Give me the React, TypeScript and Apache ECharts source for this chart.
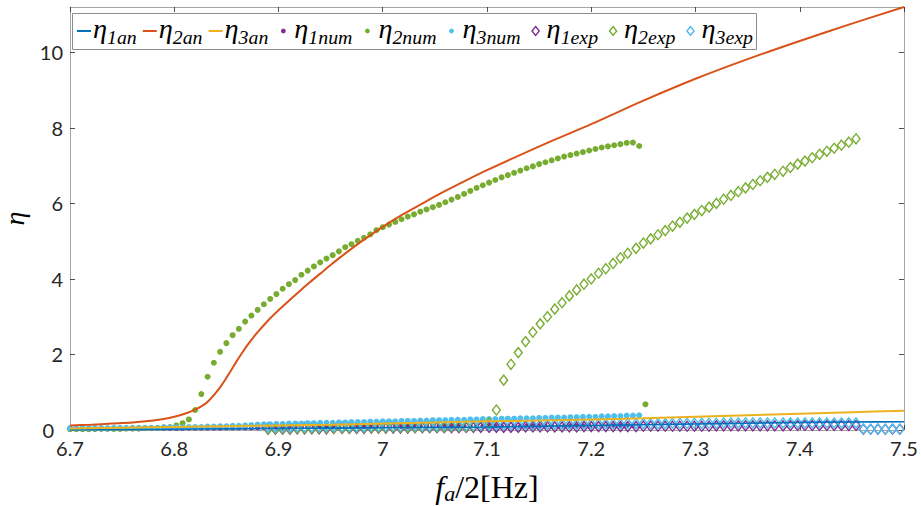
import React, { useEffect, useRef } from 'react';
import * as echarts from 'echarts';

// Frequency grid of the numerical sweep (f_a/2, Hz)
const numFreq = [
  6.700, 6.706, 6.712, 6.718, 6.724, 6.730, 6.736, 6.742, 6.748, 6.754,
  6.760, 6.766, 6.772, 6.778, 6.784, 6.790, 6.796, 6.802, 6.808, 6.814,
  6.820, 6.826, 6.832, 6.838, 6.844, 6.850, 6.856, 6.862, 6.868, 6.874,
  6.880, 6.886, 6.892, 6.898, 6.904, 6.910, 6.916, 6.922, 6.928, 6.934,
  6.940, 6.946, 6.952, 6.958, 6.964, 6.970, 6.976, 6.982, 6.988, 6.994,
  7.000, 7.006, 7.012, 7.018, 7.024, 7.030, 7.036, 7.042, 7.048, 7.054,
  7.060, 7.066, 7.072, 7.078, 7.084, 7.090, 7.096, 7.102, 7.108, 7.114,
  7.120, 7.126, 7.132, 7.138, 7.144, 7.150, 7.156, 7.162, 7.168, 7.174,
  7.180, 7.186, 7.192, 7.198, 7.204, 7.210, 7.216, 7.222, 7.228, 7.234,
  7.240, 7.246, 7.252,
];

const eta1Num = [
  0.02, 0.02, 0.02, 0.02, 0.02, 0.03, 0.03, 0.03, 0.03, 0.03, 0.03, 0.03, 0.04, 0.04, 0.04, 0.04, 0.04,
  0.04, 0.04, 0.05, 0.05, 0.05, 0.05, 0.05, 0.05, 0.06, 0.06, 0.06, 0.06, 0.06, 0.06, 0.07, 0.07, 0.07,
  0.07, 0.07, 0.07, 0.07, 0.08, 0.08, 0.08, 0.08, 0.08, 0.08, 0.08, 0.08, 0.09, 0.09, 0.09, 0.09, 0.09,
  0.09, 0.09, 0.09, 0.09, 0.10, 0.10, 0.10, 0.10, 0.10, 0.10, 0.10, 0.10, 0.10, 0.10, 0.10, 0.10, 0.10,
  0.10, 0.10, 0.10, 0.10, 0.10, 0.10, 0.10, 0.10, 0.10, 0.10, 0.10, 0.10, 0.11, 0.11, 0.11, 0.11,
  0.11, 0.11, 0.11, 0.11, 0.11, 0.11, 0.11, 0.11,
];

const eta2Num = [
  0.02, 0.02, 0.02, 0.02, 0.03, 0.03, 0.03, 0.03, 0.03, 0.04, 0.04, 0.04, 0.05, 0.05, 0.06, 0.07, 0.08,
  0.12, 0.18, 0.28, 0.53, 0.95, 1.41, 1.78, 2.07, 2.30, 2.51, 2.68, 2.87, 3.03, 3.18, 3.33, 3.47, 3.60,
  3.74, 3.86, 3.97, 4.11, 4.22, 4.33, 4.44, 4.54, 4.63, 4.73, 4.84, 4.92, 5.01, 5.09, 5.18,
  5.29, 5.37, 5.44, 5.51, 5.58, 5.65, 5.71, 5.78, 5.84, 5.90, 5.96, 6.03, 6.10, 6.17, 6.25,
  6.33, 6.41, 6.48, 6.55, 6.62, 6.69, 6.75, 6.81, 6.87, 6.93, 6.98, 7.04, 7.09, 7.14, 7.19,
  7.24, 7.28, 7.32, 7.36, 7.40, 7.44, 7.48, 7.51, 7.54, 7.57, 7.60, 7.61, 7.52, 0.68,
];

const eta3Num = [
  0.05, 0.05, 0.05, 0.05, 0.05, 0.05, 0.05, 0.06, 0.06, 0.06, 0.06, 0.06, 0.06, 0.06, 0.06, 0.07, 0.07, 0.07,
  0.07, 0.08, 0.08, 0.08, 0.09, 0.09, 0.10, 0.10, 0.11, 0.11, 0.12, 0.13, 0.14, 0.15, 0.15, 0.16,
  0.16, 0.17, 0.17, 0.17, 0.18, 0.18, 0.19, 0.19, 0.19, 0.20, 0.20, 0.21, 0.21, 0.21, 0.22, 0.22, 0.23,
  0.23, 0.23, 0.24, 0.24, 0.24, 0.25, 0.25, 0.26, 0.26, 0.26, 0.27, 0.27, 0.27, 0.28, 0.28, 0.29, 0.29,
  0.29, 0.30, 0.30, 0.30, 0.31, 0.31, 0.31, 0.32, 0.32, 0.33, 0.33, 0.33, 0.34, 0.34, 0.35, 0.35,
  0.35, 0.36, 0.36, 0.37, 0.37, 0.38, 0.38, 0.39,
];

// Frequency grid of the measurements
const expFreq = [
  6.890, 6.897, 6.904, 6.911, 6.918, 6.925, 6.932, 6.939, 6.946, 6.953,
  6.961, 6.968, 6.975, 6.982, 6.989, 6.996, 7.003, 7.010, 7.017, 7.024,
  7.031, 7.038, 7.045, 7.052, 7.059, 7.066, 7.073, 7.080, 7.087, 7.094,
  7.102, 7.109, 7.116, 7.123, 7.130, 7.137, 7.144, 7.151, 7.158, 7.165,
  7.172, 7.179, 7.186, 7.193, 7.200, 7.207, 7.214, 7.221, 7.228, 7.235,
  7.243, 7.250, 7.257, 7.264, 7.271, 7.278, 7.285, 7.292, 7.299, 7.306,
  7.313, 7.320, 7.327, 7.334, 7.341, 7.348, 7.355, 7.362, 7.369, 7.376,
  7.384, 7.391, 7.398, 7.405, 7.412, 7.419, 7.426, 7.433, 7.440, 7.447,
  7.454, 7.461, 7.468, 7.475, 7.482, 7.489, 7.496,
];

const eta1Exp = [
  0.02, 0.02, 0.02, 0.02, 0.03, 0.03, 0.03, 0.03, 0.03, 0.04, 0.04, 0.04, 0.04, 0.04, 0.05, 0.05, 0.05, 0.05, 0.05, 0.05, 0.06,
  0.06, 0.06, 0.06, 0.06, 0.06, 0.06, 0.07, 0.07, 0.07, 0.07, 0.07, 0.07, 0.07, 0.07, 0.08, 0.08, 0.08, 0.08, 0.08, 0.08,
  0.08, 0.08, 0.09, 0.09, 0.09, 0.09, 0.09, 0.09, 0.09, 0.09, 0.10, 0.10, 0.10, 0.10, 0.10, 0.10, 0.10, 0.10, 0.10, 0.10,
  0.11, 0.11, 0.11, 0.11, 0.11, 0.11, 0.11, 0.11, 0.11, 0.11, 0.12, 0.12, 0.12, 0.12, 0.12, 0.12, 0.12, 0.12, 0.12, 0.12,
  0.02, 0.02, 0.02, 0.02, 0.02, 0.02,
];

const eta2Exp = [
  0.03, 0.03, 0.03, 0.04, 0.04, 0.04, 0.04, 0.05, 0.05, 0.05, 0.05, 0.05, 0.06, 0.06, 0.06, 0.06,
  0.06, 0.07, 0.07, 0.07, 0.07, 0.08, 0.08, 0.08, 0.08, 0.09, 0.09, 0.09, 0.10, 0.13, 0.19,
  0.53,
  1.32, 1.74, 2.05, 2.34, 2.59, 2.81, 3.00, 3.20, 3.37, 3.55, 3.71, 3.86, 4.00, 4.15, 4.27, 4.41,
  4.56, 4.68, 4.81, 4.95, 5.06, 5.17, 5.28, 5.40, 5.50, 5.61, 5.71, 5.81, 5.90, 6.00, 6.11, 6.21,
  6.31, 6.41, 6.50, 6.60, 6.69, 6.77, 6.85, 6.95, 7.04, 7.12, 7.21, 7.30, 7.38, 7.46, 7.54, 7.62, 7.71,
];

const eta3Exp = [
  0.07, 0.07, 0.07, 0.07, 0.08, 0.08, 0.08, 0.08, 0.08, 0.09, 0.09, 0.09, 0.09, 0.09, 0.10, 0.10, 0.10, 0.10, 0.10, 0.11, 0.11,
  0.11, 0.11, 0.11, 0.12, 0.12, 0.12, 0.12, 0.12, 0.13, 0.13, 0.13, 0.13, 0.14, 0.14, 0.14, 0.14, 0.14, 0.15, 0.15, 0.15,
  0.15, 0.15, 0.16, 0.16, 0.16, 0.16, 0.16, 0.16, 0.17, 0.17, 0.17, 0.17, 0.17, 0.17, 0.18, 0.18, 0.18, 0.18, 0.18, 0.18,
  0.18, 0.19, 0.19, 0.19, 0.19, 0.19, 0.19, 0.19, 0.19, 0.19, 0.19, 0.19, 0.19, 0.19, 0.19, 0.19, 0.19, 0.19, 0.19, 0.19,
  0.03, 0.02, 0.03, 0.02, 0.03, 0.02,
];

// Analytical curves
const anFreq = [6.70, 6.75, 6.80, 6.85, 6.90, 6.95, 7.00, 7.05, 7.10, 7.15, 7.20, 7.25, 7.30, 7.35, 7.40, 7.45, 7.50];
const eta1An = [0.00, 0.01, 0.02, 0.03, 0.04, 0.05, 0.06, 0.07, 0.08, 0.10, 0.12, 0.14, 0.16, 0.18, 0.20, 0.21, 0.22];
const eta3An = [0.04, 0.06, 0.08, 0.10, 0.12, 0.14, 0.17, 0.20, 0.23, 0.25, 0.28, 0.31, 0.35, 0.39, 0.43, 0.47, 0.51];

const an2Freq = [
  6.70, 6.72, 6.74, 6.76, 6.78, 6.79, 6.80, 6.81, 6.82, 6.83, 6.835, 6.84, 6.845, 6.85, 6.855,
  6.86, 6.865, 6.87, 6.875, 6.88, 6.89, 6.90, 6.91, 6.92, 6.93, 6.94, 6.95, 6.96, 6.98, 7.00,
  7.02, 7.04, 7.06, 7.08, 7.10, 7.13, 7.16, 7.20, 7.25, 7.30, 7.35, 7.40, 7.45, 7.50,
];
const eta2An = [
  0.12, 0.14, 0.17, 0.20, 0.25, 0.29, 0.35, 0.43, 0.54, 0.70, 0.83, 0.99, 1.17, 1.38, 1.60,
  1.83, 2.04, 2.24, 2.42, 2.59, 2.90, 3.17, 3.42, 3.67, 3.91, 4.14, 4.37, 4.59, 5.00, 5.38,
  5.72, 6.03, 6.33, 6.61, 6.88, 7.26, 7.63, 8.10, 8.72, 9.30, 9.82, 10.30, 10.76, 11.20,
];

const X_MIN = 6.7;
const X_MAX = 7.5;
const X_STEP = 0.1;
const Y_MIN = 0;
const Y_MAX = 11.2;
const Y_STEP = 2;

const COLORS = {
  blue: '#0072BD',
  orange: '#D95319',
  yellow: '#EDB120',
  purple: '#7E2F8E',
  green: '#77AC30',
  cyan: '#4DBEEE',
};

type Kind = 'line' | 'dot' | 'diamond';
const legendItems: { sub: string; kind: Kind; color: string }[] = [
  { sub: '1an', kind: 'line', color: COLORS.blue },
  { sub: '2an', kind: 'line', color: COLORS.orange },
  { sub: '3an', kind: 'line', color: COLORS.yellow },
  { sub: '1num', kind: 'dot', color: COLORS.purple },
  { sub: '2num', kind: 'dot', color: COLORS.green },
  { sub: '3num', kind: 'dot', color: COLORS.cyan },
  { sub: '1exp', kind: 'diamond', color: COLORS.purple },
  { sub: '2exp', kind: 'diamond', color: COLORS.green },
  { sub: '3exp', kind: 'diamond', color: COLORS.cyan },
];

const SERIF = '"Liberation Serif", "Times New Roman", serif';
const SANS = 'Lato, "Noto Sans", sans-serif';
const AXIS_GRAY = '#a6a6a6';
const TICK_TEXT = '#262626';
const TICK_FONT = 20;

const pairs = (xs: number[], ys: number[]) => ys.map((y, i) => [xs[i], y]);

function buildLegend(): any[] {
  const box = { x: 72, y: 13, w: 684, h: 36 };
  const cy = box.y + box.h / 2;
  const ctx = document.createElement('canvas').getContext('2d') as CanvasRenderingContext2D;
  const baseEta = 20;
  const baseSub = 14;
  const textW = (sub: string) => {
    ctx.font = `italic ${baseEta}px ${SERIF}`;
    const a = ctx.measureText('η').width;
    ctx.font = `italic ${baseSub}px ${SERIF}`;
    return a + ctx.measureText(sub).width;
  };
  const iconW = (k: Kind) => (k === 'line' ? 16 : 20);
  const gap = 6;
  const widths = legendItems.map((it) => textW(it.sub));
  const fixed = legendItems.reduce((s, it) => s + iconW(it.kind), 0) + gap * (legendItems.length - 1) + 8;
  const scale = (box.w - fixed) / widths.reduce((s, w) => s + w, 0);
  const etaSize = baseEta * scale;
  const subSize = baseSub * scale;

  const els: any[] = [
    {
      type: 'rect',
      shape: { x: box.x + 0.5, y: box.y + 0.5, width: box.w, height: box.h },
      style: { fill: '#ffffff', stroke: '#8c8c8c', lineWidth: 1 },
      z: 100,
    },
  ];
  let x = box.x + 5;
  legendItems.forEach((it, i) => {
    if (it.kind === 'line') {
      els.push({
        type: 'line',
        shape: { x1: x, y1: cy, x2: x + 14, y2: cy },
        style: { stroke: it.color, lineWidth: 2 },
        z: 101,
      });
    } else if (it.kind === 'dot') {
      els.push({
        type: 'circle',
        shape: { cx: x + 9, cy, r: 2.4 },
        style: { fill: it.color },
        z: 101,
      });
    } else {
      const cx = x + 9;
      els.push({
        type: 'polygon',
        shape: { points: [[cx, cy - 4.5], [cx + 3.6, cy], [cx, cy + 4.5], [cx - 3.6, cy]] },
        style: { fill: 'none', stroke: it.color, lineWidth: 1.4 },
        z: 101,
      });
    }
    const tx = x + iconW(it.kind);
    els.push({
      type: 'text',
      x: tx,
      y: cy,
      z: 101,
      style: {
        text: `{e|η}{s|${it.sub}}`,
        fill: '#000',
        align: 'left',
        verticalAlign: 'middle',
        textAlign: 'left',
        textVerticalAlign: 'middle',
        rich: {
          e: { fontSize: etaSize, fontFamily: SERIF, fontStyle: 'italic', lineHeight: etaSize * 1.15, verticalAlign: 'top', fill: '#000' },
          s: { fontSize: subSize, fontFamily: SERIF, fontStyle: 'italic', lineHeight: subSize, verticalAlign: 'bottom', fill: '#000' },
        },
      },
    });
    x = tx + widths[i] * scale + gap;
  });
  return els;
}

const fmtTick = (v: number) => String(Math.round(v * 10) / 10);
// The zero label sits in the corner next to the first x label; nudge it left.
const fmtYTick = (v: number) => (Math.abs(v) < 1e-9 ? '{z|0}' : fmtTick(v));

export default function App() {
  const ref = useRef<HTMLDivElement>(null);

  useEffect(() => {
    if (!ref.current) return;
    const chart = echarts.init(ref.current, undefined, { renderer: 'svg' });

    const baseX = {
      type: 'value',
      min: X_MIN,
      max: X_MAX,
      interval: X_STEP,
      splitLine: { show: false },
      axisLine: { show: true, onZero: false, lineStyle: { color: AXIS_GRAY, width: 1 } },
      axisTick: { show: true, inside: true, length: 5, lineStyle: { color: TICK_TEXT, width: 0.8 } },
    };
    const baseY = {
      type: 'value',
      min: Y_MIN,
      max: Y_MAX,
      interval: Y_STEP,
      splitLine: { show: false },
      axisLine: { show: true, onZero: false, lineStyle: { color: AXIS_GRAY, width: 1 } },
      axisTick: { show: true, inside: true, length: 5, lineStyle: { color: TICK_TEXT, width: 0.8 } },
    };

    const dot = (name: string, xs: number[], ys: number[], color: string, size: number) => ({
      name,
      type: 'scatter',
      data: pairs(xs, ys),
      symbol: 'circle',
      symbolSize: size,
      itemStyle: { color, opacity: 1 },
      silent: true,
    });
    const diamond = (name: string, xs: number[], ys: number[], color: string) => ({
      name,
      type: 'scatter',
      data: pairs(xs, ys),
      symbol: 'diamond',
      symbolSize: [8, 10],
      itemStyle: { color: 'rgba(0,0,0,0)', borderColor: color, borderWidth: 1.4, opacity: 1 },
      silent: true,
    });
    const curve = (name: string, xs: number[], ys: number[], color: string, width: number) => ({
      name,
      type: 'line',
      data: pairs(xs, ys),
      showSymbol: false,
      smooth: 0.3,
      lineStyle: { color, width },
      itemStyle: { color },
      silent: true,
    });

    chart.setOption({
      animation: false,
      backgroundColor: '#ffffff',
      grid: { left: 70, right: 17, top: 7, bottom: 76, containLabel: false, outerBoundsMode: 'none' },
      xAxis: [
        {
          ...baseX,
          position: 'bottom',
          axisLabel: { show: true, margin: 10, lineHeight: 16, color: TICK_TEXT, fontFamily: SANS, fontSize: TICK_FONT, formatter: fmtTick },
          name: '{f|f}{a|a}{r|/2[Hz]}',
          nameLocation: 'middle',
          nameGap: 41,
          nameTextStyle: {
            color: '#000',
            rich: {
              f: { fontFamily: SERIF, fontStyle: 'italic', fontSize: 32, lineHeight: 33, verticalAlign: 'top', color: '#000' },
              a: { fontFamily: SERIF, fontStyle: 'italic', fontSize: 22, lineHeight: 20, verticalAlign: 'bottom', color: '#000' },
              r: { fontFamily: SERIF, fontSize: 32, lineHeight: 33, verticalAlign: 'top', color: '#000' },
            },
          },
        },
        { ...baseX, position: 'top', axisLabel: { show: false } },
      ],
      yAxis: [
        {
          ...baseY,
          position: 'left',
          axisLabel: {
            show: true,
            margin: 7,
            lineHeight: 16,
            color: TICK_TEXT,
            fontFamily: SANS,
            fontSize: TICK_FONT,
            showMaxLabel: false,
            formatter: fmtYTick,
            rich: {
              z: { fontFamily: SANS, fontSize: TICK_FONT, color: TICK_TEXT, lineHeight: 16, padding: [0, 9, 0, 0] },
            },
          },
          name: 'η',
          nameLocation: 'middle',
          nameGap: 42,
          nameRotate: 90,
          nameTextStyle: { color: '#000', fontFamily: SERIF, fontStyle: 'italic', fontSize: 28 },
        },
        { ...baseY, position: 'right', axisLabel: { show: false } },
      ],
      series: [
        curve('η1an', anFreq, eta1An, COLORS.blue, 1.6),
        curve('η2an', an2Freq, eta2An, COLORS.orange, 2),
        curve('η3an', anFreq, eta3An, COLORS.yellow, 2),
        dot('η1num', numFreq, eta1Num, COLORS.purple, 5),
        dot('η2num', numFreq, eta2Num, COLORS.green, 6),
        dot('η3num', numFreq, eta3Num, COLORS.cyan, 6),
        diamond('η1exp', expFreq, eta1Exp, COLORS.purple),
        diamond('η2exp', expFreq, eta2Exp, COLORS.green),
        diamond('η3exp', expFreq, eta3Exp, COLORS.cyan),
      ],
      graphic: buildLegend(),
    });

    return () => chart.dispose();
  }, []);

  return (
    <div
      ref={ref}
      style={{ position: 'absolute', left: 0, top: 0, width: 921, height: 506 }}
    />
  );
}
